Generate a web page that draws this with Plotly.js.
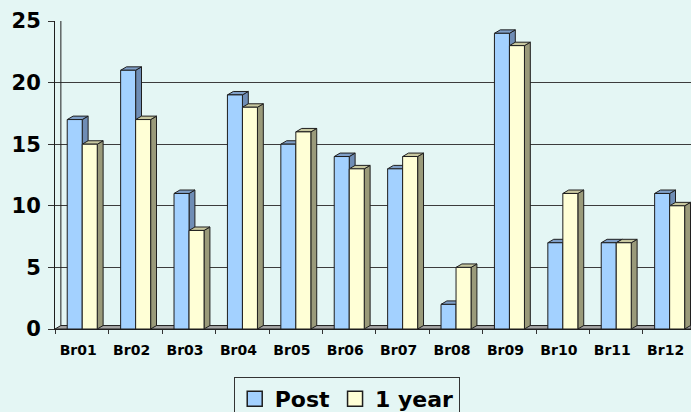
<!DOCTYPE html>
<html>
<head>
<meta charset="utf-8">
<script src="https://cdn.plot.ly/plotly-3.0.1.min.js"></script>
<style>
  html, body { margin: 0; padding: 0; background: #e4f6f4; }
  #chart { width: 691px; height: 412px; }
</style>
</head>
<body>
<div id="chart"></div>
<script>
const categories = ['Br01','Br02','Br03','Br04','Br05','Br06','Br07','Br08','Br09','Br10','Br11','Br12'];
const postValues = [17, 21, 11, 19, 15, 14, 13, 2, 24, 7, 7, 11];
const yearValues = [15, 17, 8, 18, 16, 13, 14, 5, 23, 11, 7, 10];
const seriesNames = ['Post', '1 year'];
const yTicks = [0, 5, 10, 15, 20, 25];

const BG = '#e4f6f4';
const BLUE = '#a3d1ff';
const BLUE_SIDE = '#6f8db5';
const BLUE_TOP = '#7f9fc8';
const YEL = '#ffffd6';
const YEL_SIDE = '#9a9a7a';
const YEL_TOP = '#c8c8a0';
const EDGE = '#1e1e1e';

const BARGAP = 0.438;
const halfW = (1 - BARGAP) / 2;      // width of one bar in category units
const DX = 0.11;                     // depth offset (x, category units)
const DY = 0.28;                     // depth offset (y, value units)
const X0 = -0.51, X1 = 11.40;

const shapes = [];
// floor
shapes.push({type:'path', xref:'x', yref:'y', layer:'between',
  path:`M${X0},0 L${X1},0 L${X1},${DY} L${X0+DX},${DY} Z`,
  fillcolor:'#a6a6a6', line:{color:EDGE, width:1}});
// back wall left edge
shapes.push({type:'line', xref:'x', yref:'y', layer:'between',
  x0:X0+DX, x1:X0+DX, y0:DY, y1:25, line:{color:EDGE, width:1}});

function addBox(xl, xr, v, side, top) {
  shapes.push({type:'path', xref:'x', yref:'y', layer:'between',
    path:`M${xr},0 L${xr},${v} L${xr+DX},${v+DY} L${xr+DX},${DY} Z`,
    fillcolor:side, line:{color:EDGE, width:1}});
  shapes.push({type:'path', xref:'x', yref:'y', layer:'between',
    path:`M${xl},${v} L${xr},${v} L${xr+DX},${v+DY} L${xl+DX},${v+DY} Z`,
    fillcolor:top, line:{color:EDGE, width:1}});
}
categories.forEach((c, i) => {
  addBox(i - halfW, i, postValues[i], BLUE_SIDE, BLUE_TOP);
  addBox(i, i + halfW, yearValues[i], YEL_SIDE, YEL_TOP);
});

const font = {family:'DejaVu Sans', color:'#000', weight:'bold'};

const data = [
  {type:'bar', x:categories, y:postValues, name:seriesNames[0], showlegend:false,
   marker:{color:BLUE, line:{color:EDGE, width:1}}},
  {type:'bar', x:categories, y:yearValues, name:seriesNames[1], showlegend:false,
   marker:{color:YEL, line:{color:EDGE, width:1}}},
  {type:'scatter', mode:'markers', x:[null], y:[null], name:seriesNames[0],
   marker:{symbol:'square', size:15, color:BLUE, line:{color:EDGE, width:1.5}}},
  {type:'scatter', mode:'markers', x:[null], y:[null], name:seriesNames[1],
   marker:{symbol:'square', size:15, color:YEL, line:{color:EDGE, width:1.5}}}
];

const layout = {
  width:691, height:412,
  margin:{l:55, r:0, t:21, b:83, pad:0, autoexpand:false},
  paper_bgcolor:BG, plot_bgcolor:BG,
  barmode:'group', bargap:BARGAP, bargroupgap:0,
  font:font,
  xaxis:{type:'category', range:[X0, X1], tickson:'boundaries',
    ticks:'outside', ticklen:4, tickcolor:'#333', tickwidth:1,
    showline:true, linecolor:EDGE, linewidth:1, showgrid:false,
    tickfont:{family:'DejaVu Sans', size:14, color:'#000', weight:'bold'},
    ticklabelstandoff:8, ticklabelshift:-4, fixedrange:true},
  yaxis:{range:[0,25], tickvals:yTicks, ticktext:yTicks.map(String),
    ticks:'outside', ticklen:6, tickcolor:'#333', tickwidth:1,
    showline:true, linecolor:EDGE, linewidth:1,
    showgrid:true, gridcolor:'#3c3c3c', gridwidth:1, zeroline:false,
    tickfont:{family:'DejaVu Sans', size:21, color:'#000', weight:'bold'},
    ticklabelstandoff:3, fixedrange:true},
  legend:{orientation:'h', x:0.281, y:-0.156, xanchor:'left', yanchor:'top',
    bgcolor:'rgba(0,0,0,0)', bordercolor:'#333', borderwidth:1,
    font:{family:'DejaVu Sans', size:22, color:'#000', weight:'bold'}},
  shapes:shapes
};

Plotly.newPlot('chart', data, layout, {displayModeBar:false, staticPlot:true});
</script>
</body>
</html>
